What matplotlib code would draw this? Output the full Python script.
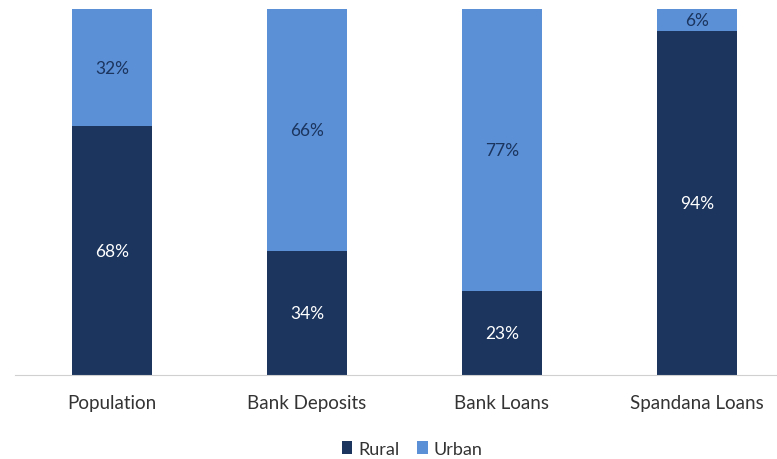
import numpy as np
import matplotlib.pyplot as plt

plt.rcParams['font.family'] = ['Lato', 'DejaVu Sans']

categories = ["Population", "Bank Deposits", "Bank Loans", "Spandana Loans"]
rural = [68, 34, 23, 94]
urban = [32, 66, 77, 6]

col_rural = "#1b355e"
col_urban = "#5b8fd6"

fig = plt.figure(figsize=(7.77, 4.6), dpi=100)
ax = fig.add_axes([14.5 / 777, (460 - 376) / 460, (777 - 14.5) / 777, 366 / 460])

x = np.arange(len(categories))
w = 0.415
b1 = ax.bar(x, rural, w, color=col_rural, label="Rural")
b2 = ax.bar(x, urban, w, bottom=rural, color=col_urban, label="Urban")

for i in range(len(categories)):
    ax.text(x[i], rural[i] / 2, f"{rural[i]}%", ha="center", va="center",
            color="white", fontsize=12.5)
    ax.text(x[i], rural[i] + urban[i] / 2, f"{urban[i]}%", ha="center", va="center",
            color=col_rural, fontsize=12.5)

ax.set_xlim(-0.5, (777 - 112) / 195)
ax.set_ylim(0, 100)
ax.set_xticks(x)
ax.set_xticklabels(categories, fontsize=13.5, color="#333333")
ax.tick_params(axis="x", length=0, pad=14)
ax.set_yticks([])
for s in ["top", "left", "right"]:
    ax.spines[s].set_visible(False)
ax.spines["bottom"].set_color("#d0d0d0")

fig.legend(handles=[b1, b2], labels=["Rural", "Urban"], loc="center",
           bbox_to_anchor=(412 / 777, 1 - 450 / 460), ncol=2, frameon=False,
           fontsize=13, handlelength=0.6, handleheight=0.7, handletextpad=0.3,
           columnspacing=1.0, labelcolor="#333333")

fig.savefig("out.png", dpi=100)
